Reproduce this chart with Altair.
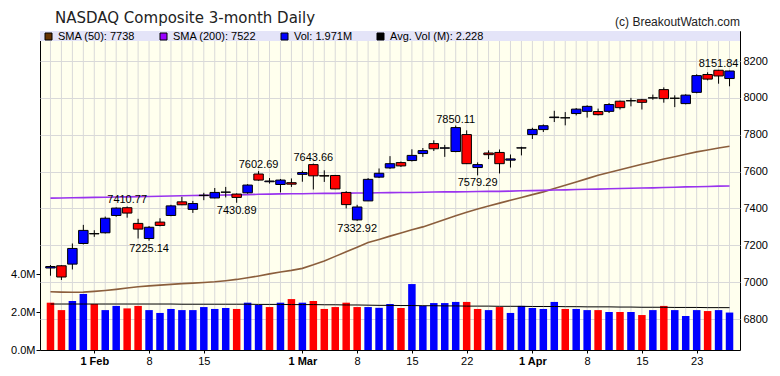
import altair as alt
import pandas as pd

TITLE = "NASDAQ Composite 3-month Daily"
COPYRIGHT = "(c) BreakoutWatch.com"

# daily OHLC (trading days 28 Jan .. 26 Apr)
opens = [7077, 7089, 7098, 7210, 7262, 7268, 7362, 7404, 7319, 7237,
         7326, 7362, 7436, 7395, 7470, 7457, 7488, 7478, 7485, 7587,
         7545, 7530, 7540, 7585, 7638, 7578, 7579, 7487, 7338, 7441,
         7570, 7620, 7649, 7660, 7698, 7752, 7727, 7709, 7801, 7622,
         7701, 7704, 7662, 7728, 7801, 7828, 7893, 7892, 7915, 7927,
         7926, 7927, 7982, 7985, 7990, 8000, 8045, 7998, 7969, 8030,
         8127, 8150, 8105]
highs = [7093, 7092, 7210, 7311, 7282, 7356, 7406, 7410.77, 7344, 7305,
         7347, 7420, 7463, 7441, 7485, 7511, 7517, 7482, 7532, 7602.69,
         7565, 7560, 7563, 7605, 7643.66, 7607, 7582, 7494, 7420, 7565,
         7617, 7684, 7655, 7721, 7728, 7770, 7745, 7850.11, 7824, 7650,
         7715, 7720, 7693, 7735, 7838, 7856, 7930, 7923, 7945, 7960,
         7942, 7972, 7985, 8000, 7995, 8018, 8057, 8014, 8020, 8128,
         8139, 8151.84, 8148]
lows = [7035, 7012, 7069, 7205, 7246, 7264, 7355, 7350, 7237, 7225.14,
        7303, 7358, 7418, 7376, 7445, 7455, 7460, 7430.89, 7480, 7550,
        7535, 7487, 7517, 7545, 7503, 7544, 7505, 7400, 7332.92, 7440,
        7565, 7615, 7625, 7655, 7680, 7712, 7680, 7705, 7641, 7579.29,
        7668, 7590, 7622, 7688, 7777, 7815, 7869, 7851, 7905, 7893,
        7905, 7918, 7937, 7954, 7937, 7990, 7974, 7950, 7965, 8025,
        8095, 8077, 8063]
closes = [7085, 7028, 7183, 7281, 7264, 7347, 7402, 7375, 7288, 7298,
          7308, 7414, 7420, 7427, 7472, 7487, 7489, 7460, 7527, 7554,
          7549, 7554, 7532, 7595, 7577, 7576, 7506, 7421, 7408, 7558,
          7591, 7643, 7631, 7688, 7714, 7724, 7729, 7839, 7643, 7638,
          7692, 7643, 7669, 7729, 7829, 7849, 7896, 7892, 7939, 7954,
          7909, 7964, 7947, 7984, 7976, 8000, 7996, 7998, 8015, 8121,
          8102, 8119, 8146]
prev_close = 7164.86

volumes_m = [2.49, 2.10, 2.58, 2.95, 2.42, 2.10, 2.32, 2.19, 2.32, 2.10,
             1.95, 2.16, 2.10, 2.10, 2.26, 2.16, 2.21, 2.16, 2.49, 2.37,
             2.26, 2.49, 2.68, 2.49, 2.58, 2.16, 2.26, 2.49, 2.26, 2.26,
             2.22, 2.42, 2.21, 3.47, 2.32, 2.47, 2.47, 2.53, 2.53, 2.16,
             2.10, 2.26, 1.95, 2.32, 2.21, 2.16, 2.53, 2.16, 2.16, 2.10,
             2.10, 2.00, 2.00, 2.00, 1.84, 2.10, 2.32, 2.10, 1.79, 2.10,
             2.05, 2.10, 1.971]
avg_vol_m = [2.42, 2.42, 2.42, 2.42, 2.42, 2.42, 2.42, 2.42, 2.42, 2.42,
             2.42, 2.42, 2.41, 2.41, 2.41, 2.41, 2.41, 2.41, 2.41, 2.40,
             2.40, 2.40, 2.39, 2.39, 2.39, 2.38, 2.38, 2.37, 2.37, 2.36,
             2.35, 2.35, 2.34, 2.34, 2.33, 2.33, 2.32, 2.32, 2.31, 2.31,
             2.31, 2.30, 2.30, 2.30, 2.29, 2.29, 2.29, 2.28, 2.28, 2.27,
             2.27, 2.27, 2.26, 2.26, 2.25, 2.25, 2.25, 2.24, 2.24, 2.24,
             2.23, 2.23, 2.228]
sma50 = [6948, 6946, 6945, 6946, 6950, 6955, 6961, 6968, 6975, 6980,
         6984, 6988, 6992, 6995, 6998, 7002, 7008, 7015, 7024, 7034,
         7045, 7055, 7064, 7075, 7094, 7115, 7140, 7165, 7190, 7215,
         7232, 7250, 7267, 7284, 7300, 7320, 7340, 7360, 7380, 7397,
         7413, 7429, 7445, 7460, 7475, 7490, 7508, 7526, 7544, 7562,
         7580, 7595, 7610, 7625, 7640, 7654, 7668, 7681, 7694, 7707,
         7717, 7728, 7738]
sma200 = [7456, 7457, 7458, 7459, 7460, 7461, 7462, 7463, 7464, 7465,
          7466, 7468, 7469, 7470, 7471, 7472, 7473, 7474, 7475, 7477,
          7478, 7479, 7480, 7480, 7481, 7482, 7482, 7483, 7484, 7484,
          7485, 7486, 7487, 7487, 7488, 7489, 7490, 7490, 7491, 7492,
          7493, 7493, 7494, 7496, 7497, 7498, 7500, 7501, 7503, 7504,
          7505, 7507, 7508, 7510, 7511, 7512, 7514, 7515, 7517, 7518,
          7519, 7521, 7522]

tick_idx = [4, 9, 14, 23, 28, 33, 38, 44, 49, 54, 59]
tick_labels = ["1 Feb", "8", "15", "1 Mar", "8", "15", "22", "1 Apr", "8", "15", "23"]
bold_idx = [4, 23, 44]

high_label_idx = [7, 19, 24, 37, 61]
low_label_idx = [9, 17, 28, 39]

price_ticks = [6800, 7000, 7200, 7400, 7600, 7800, 8000, 8200]
vol_ticks = [0, 2, 4]

legend_labels = ["SMA (50): 7738", "SMA (200): 7522", "Vol: 1.971M", "Avg. Vol (M): 2.228"]
legend_colors = ["#663300", "#9900FF", "#0000FF", "#000000"]

UP, DOWN = "#0000FF", "#FF0000"

n = len(closes)
prevs = [prev_close] + closes[:-1]
df = pd.DataFrame({
    "i": list(range(n)),
    "open": opens, "high": highs, "low": lows, "close": closes,
    "vol": volumes_m, "avgvol": avg_vol_m,
    "sma50": sma50, "sma200": sma200,
    "body_col": [UP if c > o else DOWN for o, c in zip(opens, closes)],
    "vol_col": [UP if c > p else DOWN for p, c in zip(prevs, closes)],
})

hi_df = pd.DataFrame({"i": high_label_idx, "v": [highs[k] for k in high_label_idx]})
lo_df = pd.DataFrame({"i": low_label_idx, "v": [lows[k] for k in low_label_idx]})
leg_df = pd.DataFrame({"label": legend_labels})
title_df = pd.DataFrame({"t": [TITLE]})
copy_df = pd.DataFrame({"t": [COPYRIGHT]})

W, H = 700, 319
xscale = alt.Scale(domain=[-0.5, n - 0.5], nice=False, zero=False)

labels_js = "[" + ",".join("'%s'" % s for s in tick_labels) + "]"
idx_js = "[" + ",".join(str(v) for v in tick_idx) + "]"
bold_js = "[" + ",".join(str(v) for v in bold_idx) + "]"

x_axis = alt.Axis(
    values=tick_idx,
    labelExpr=f"{labels_js}[indexof({idx_js}, datum.value)]",
    labelFontWeight={"condition": {"test": f"indexof({bold_js}, datum.value) >= 0", "value": "bold"},
                     "value": "normal"},
    grid=False, tickSize=3, labelPadding=2, domain=False, title=None,
    labelFont="Liberation Sans", labelFontSize=11, labelColor="black", tickColor="black",
)
X = alt.X("i:Q", scale=xscale, axis=x_axis)

# ---------- volume layer (left axis)
vscale = alt.Scale(domain=[0, H / 19.0], nice=False, zero=True)
vol_axis = alt.Axis(values=vol_ticks, labelExpr="format(datum.value, '.1f') + 'M'",
                    orient="left", grid=False, tickSize=4, labelPadding=1, title=None,
                    domain=False, labelFont="Liberation Sans", labelFontSize=11,
                    labelColor="black", tickColor="black")

vgrid = alt.Chart(df).mark_rule(color="#D9D9D9", strokeWidth=1).encode(
    x=X, y=alt.value(0), y2=alt.value(H))

vol_bars = alt.Chart(df).mark_bar(size=7.5, orient="vertical").encode(
    x=X,
    y=alt.Y("vol:Q", scale=vscale, axis=vol_axis),
    y2=alt.datum(0),
    fill=alt.Fill("vol_col:N", scale=None),
)
avg_line = alt.Chart(df).mark_line(color="black", strokeWidth=1).encode(
    x=X, y=alt.Y("avgvol:Q", scale=vscale, axis=vol_axis))

vol_layer = alt.layer(vgrid, vol_bars, avg_line)

# ---------- price layer (right axis)
pscale = alt.Scale(domain=[6632, 8363], nice=False, zero=False)
price_axis = alt.Axis(values=price_ticks, format="d", orient="right", grid=True,
                      gridColor="#D9D9D9", ticks=False, labelPadding=3, title=None,
                      domain=False, labelFont="Liberation Sans", labelFontSize=11,
                      labelColor="black")
PY = lambda f: alt.Y(f, scale=pscale, axis=price_axis)

sma50_line = alt.Chart(df).mark_line(color="#8B5E3C", strokeWidth=1.6).encode(x=X, y=PY("sma50:Q"))
sma200_line = alt.Chart(df).mark_line(color="#9933EE", strokeWidth=1.6).encode(x=X, y=PY("sma200:Q"))

wicks = alt.Chart(df).mark_rule(color="black", strokeWidth=1).encode(
    x=X, y=PY("low:Q"), y2="high:Q")
bodies = alt.Chart(df).mark_bar(size=9.5, orient="vertical", stroke="black", strokeWidth=1).encode(
    x=X, y=PY("open:Q"), y2="close:Q", fill=alt.Fill("body_col:N", scale=None))

hi_text = alt.Chart(hi_df).mark_text(baseline="bottom", dy=-1, font="Liberation Sans",
                                     fontSize=11, color="black").encode(
    x=X, y=PY("v:Q"), text=alt.Text("v:Q", format=".2f"))
lo_text = alt.Chart(lo_df).mark_text(baseline="top", dy=2, font="Liberation Sans",
                                     fontSize=11, color="black").encode(
    x=X, y=PY("v:Q"), text=alt.Text("v:Q", format=".2f"))

band = alt.Chart(title_df).mark_rect(color="#E4E4F8").encode(
    x=alt.value(0), x2=alt.value(W), y=alt.value(0), y2=alt.value(10))

legend_pts = alt.Chart(leg_df).mark_square(opacity=0).encode(
    x=alt.value(0), y=alt.value(0),
    color=alt.Color("label:N", sort=legend_labels,
                    scale=alt.Scale(domain=legend_labels, range=legend_colors),
                    legend=alt.Legend(title=None, orient="none", legendX=3, legendY=0,
                                      direction="horizontal", columns=4,
                                      symbolType="square", symbolSize=49,
                                      symbolStrokeColor="black", symbolStrokeWidth=1,
                                      symbolOpacity=1, labelFont="Liberation Sans",
                                      labelFontSize=11, labelColor="black",
                                      labelOffset=4, columnPadding=22, padding=0,
                                      rowPadding=0)))

title_text = alt.Chart(title_df).mark_text(align="left", baseline="alphabetic",
                                           font="DejaVu Sans", fontSize=15,
                                           color="#222222").encode(
    x=alt.value(15), y=alt.value(-8), text="t:N")
copy_text = alt.Chart(copy_df).mark_text(align="right", baseline="alphabetic",
                                         font="Liberation Sans", fontSize=12,
                                         color="#222222").encode(
    x=alt.value(W), y=alt.value(-5), text="t:N")

price_layer = alt.layer(sma50_line, sma200_line, wicks, bodies, hi_text, lo_text,
                        band, legend_pts, title_text, copy_text)

chart = alt.layer(vol_layer, price_layer).resolve_scale(y="independent").properties(
    width=W, height=H,
    autosize=alt.AutoSizeParams(type="none"),
    padding={"left": 32, "top": 23, "right": 32, "bottom": 20},
    background="white",
).configure_view(fill="#FFFFEE", stroke="black", strokeWidth=1)

chart.save("out.html", embed_options={"renderer": "svg", "actions": False})
